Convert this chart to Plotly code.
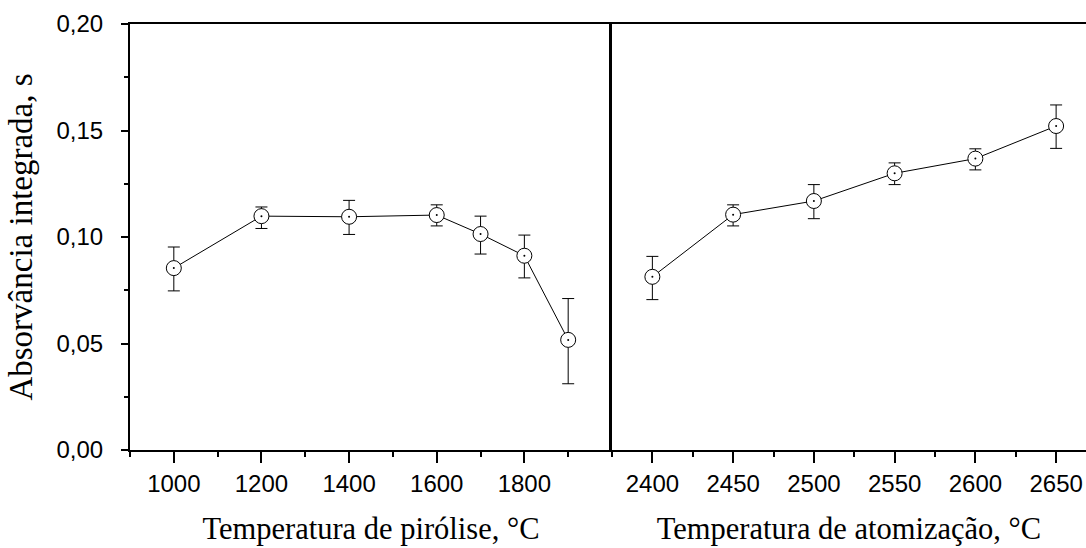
import plotly.graph_objects as go

# Pyrolysis panel
pyro_temp = [1000, 1200, 1400, 1600, 1700, 1800, 1900]
pyro_abs = [0.0854, 0.1098, 0.1095, 0.1103, 0.1014, 0.0912, 0.0517]
pyro_err_plus = [0.0099, 0.0043, 0.0077, 0.0048, 0.0084, 0.0097, 0.0194]
pyro_err_minus = [0.0107, 0.0058, 0.0083, 0.0051, 0.0094, 0.0104, 0.0206]

# Atomization panel
atom_temp = [2400, 2450, 2500, 2550, 2600, 2650]
atom_abs = [0.0813, 0.1105, 0.1169, 0.1299, 0.1368, 0.1521]
atom_err_plus = [0.0096, 0.0046, 0.0077, 0.0049, 0.0046, 0.0099]
atom_err_minus = [0.0107, 0.0053, 0.0083, 0.0053, 0.0053, 0.0105]

y_ticks = [0.00, 0.05, 0.10, 0.15, 0.20]
pyro_ticks = [1000, 1200, 1400, 1600, 1800]
atom_ticks = [2400, 2450, 2500, 2550, 2600, 2650]

SANS = "Liberation Sans, Arial, sans-serif"
SERIF = "Liberation Serif, Times New Roman, serif"

fig = go.Figure()

def add_series(x, y, ep, em, xa, ya):
    fig.add_trace(go.Scatter(
        x=x, y=y, mode="lines+markers", xaxis=xa, yaxis=ya,
        line=dict(color="black", width=1),
        marker=dict(symbol="circle", size=15, color="white",
                    line=dict(color="black", width=1)),
        error_y=dict(type="data", array=ep, arrayminus=em, symmetric=False,
                     color="black", thickness=1, width=6),
        showlegend=False, hoverinfo="x+y"))
    fig.add_trace(go.Scatter(
        x=x, y=y, mode="markers", xaxis=xa, yaxis=ya,
        marker=dict(symbol="circle", size=2, color="black"),
        showlegend=False, hoverinfo="skip"))

add_series(pyro_temp, pyro_abs, pyro_err_plus, pyro_err_minus, "x", "y")
add_series(atom_temp, atom_abs, atom_err_plus, atom_err_minus, "x2", "y2")

split = (612 - 130) / (1086 - 130)

common_x = dict(showline=True, linecolor="black", linewidth=2, mirror=True,
                ticks="outside", ticklen=11, tickwidth=1.5, tickcolor="black",
                showgrid=False, zeroline=False,
                tickfont=dict(family=SANS, size=24, color="black"),
                title_font=dict(family=SERIF, size=30.5, color="black"),
                ticklabelstandoff=0)

fig.update_layout(
    width=1086, height=548,
    margin=dict(l=130, r=0, t=24, b=98),
    paper_bgcolor="white", plot_bgcolor="white",
    separators=",.",
    xaxis=dict(common_x, domain=[0, split], range=[900, 2000],
               tickvals=pyro_ticks, ticktext=[str(v) for v in pyro_ticks],
               minor=dict(tickvals=[900, 1100, 1300, 1500, 1700, 1900],
                          ticks="outside", ticklen=5, tickwidth=1.5, tickcolor="black"),
               title=dict(text="Temperatura de pirólise, °C", standoff=22),
               anchor="y"),
    xaxis2=dict(common_x, domain=[split, 1], range=[2375, 2668.5],
                tickvals=atom_ticks, ticktext=[str(v) for v in atom_ticks],
                minor=dict(tickvals=[2375, 2425, 2475, 2525, 2575, 2625],
                           ticks="outside", ticklen=5, tickwidth=1.5, tickcolor="black"),
                title=dict(text="Temperatura de atomização, °C", standoff=22),
                anchor="y2"),
    yaxis=dict(domain=[0, 1], range=[0, 0.2], anchor="x",
               showline=True, linecolor="black", linewidth=2,
               ticks="outside", ticklen=7, tickwidth=1.5, tickcolor="black",
               tickvals=y_ticks, tickformat=".2f",
               minor=dict(dtick=0.025, tick0=0, ticks="outside", ticklen=4,
                          tickwidth=1.5, tickcolor="black"),
               showgrid=False, zeroline=False, ticklabelstandoff=13,
               tickfont=dict(family=SANS, size=24, color="black"),
               title=dict(text="Absorvância integrada, s", standoff=14,
                          font=dict(family=SERIF, size=33, color="black"))),
    yaxis2=dict(domain=[0, 1], range=[0, 0.2], anchor="x2",
                showline=True, linecolor="black", linewidth=3,
                showticklabels=False, ticks="", showgrid=False, zeroline=False),
)

fig.write_html("out.html")
